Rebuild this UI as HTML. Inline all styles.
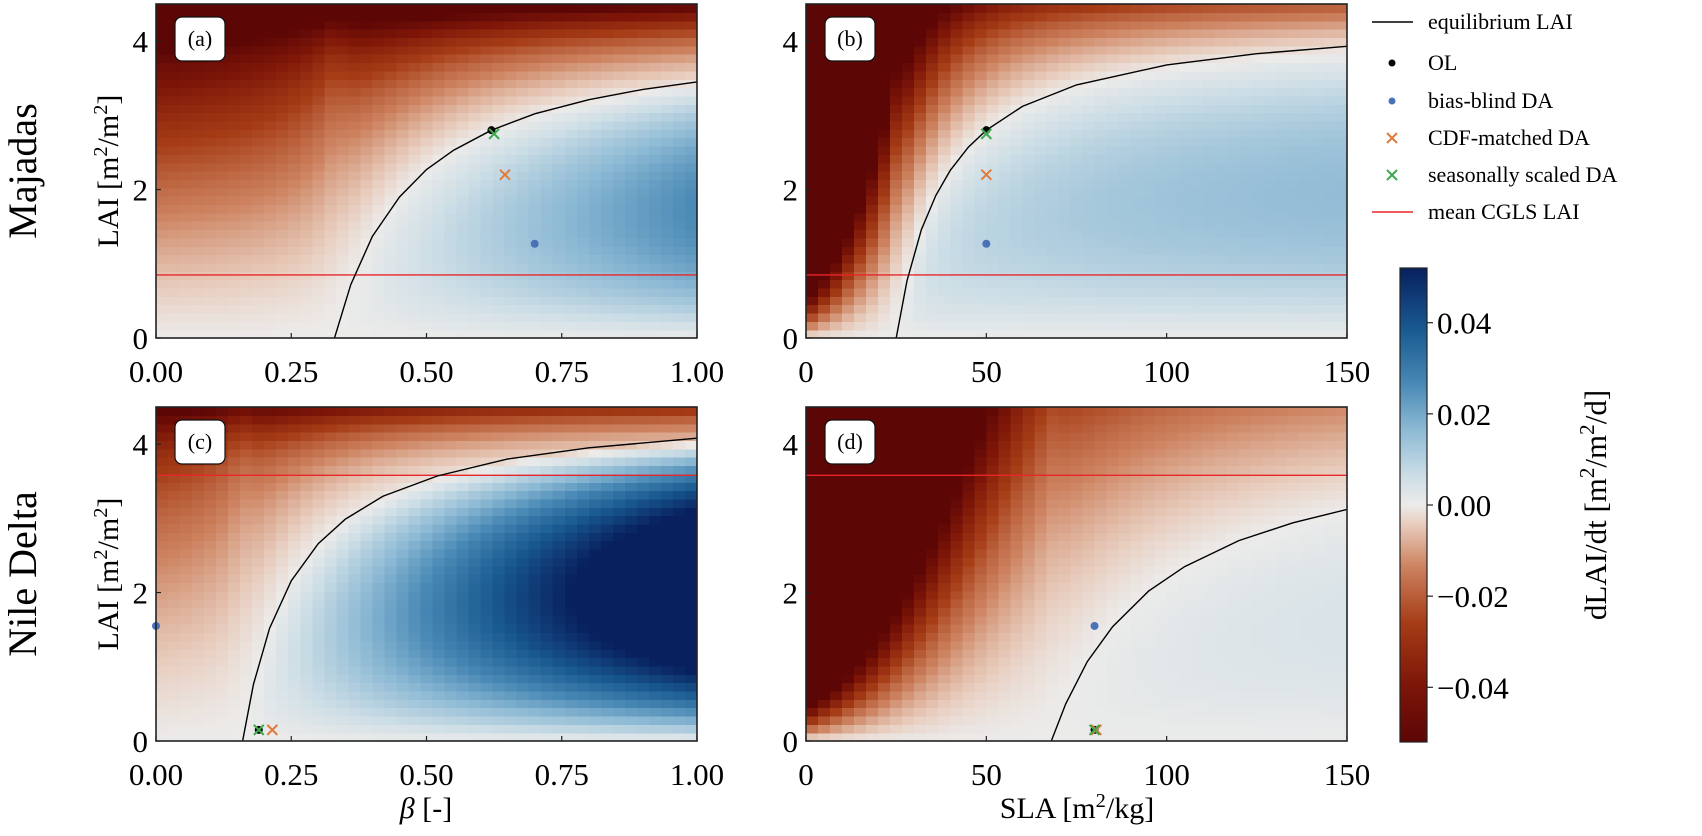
<!DOCTYPE html>
<html><head><meta charset="utf-8"><style>
html,body{margin:0;padding:0;background:#fff;}
svg{display:block;font-family:"Liberation Serif",serif;}
</style></head><body>
<svg id="fig" width="1702" height="836" viewBox="0 0 1702 836" xmlns="http://www.w3.org/2000/svg"></svg>
<script>
// ---- data ----
const betaTicks = [0, 0.25, 0.5, 0.75, 1.0];
const betaTickLabels = ["0.00","0.25","0.50","0.75","1.00"];
const slaTicks = [0, 50, 100, 150];
const slaTickLabels = ["0","50","100","150"];
const laiTicks = [0, 2, 4];
const laiTickLabels = ["0","2","4"];
const cbarTicks = [0.04, 0.02, 0, -0.02, -0.04];
const cbarTickLabels = ["0.04","0.02","0.00","\u22120.02","\u22120.04"];

const eqA_x = [0.33,0.36,0.40,0.45,0.50,0.55,0.62,0.70,0.80,0.90,1.0];
const eqA_y = [0,0.72,1.37,1.90,2.27,2.53,2.80,3.02,3.21,3.35,3.45];
const eqB_x = [25,28,32,36,40,45,50,60,75,100,125,150];
const eqB_y = [0,0.77,1.46,1.92,2.26,2.57,2.80,3.12,3.41,3.68,3.83,3.93];
const eqC_x = [0.16,0.18,0.21,0.25,0.30,0.35,0.42,0.52,0.65,0.80,1.0];
const eqC_y = [0,0.76,1.52,2.16,2.66,2.99,3.30,3.57,3.80,3.95,4.08];
const eqD_x = [68,72,78,85,95,105,120,135,150];
const eqD_y = [0,0.50,1.07,1.54,2.02,2.35,2.70,2.94,3.12];

const meanCGLS = [0.85, 0.85, 3.58, 3.58];
const olPts    = [[0.62,2.8],[50,2.8],[0.19,0.15],[80,0.15]];
const bbPts    = [[0.70,1.27],[50,1.27],[0.0,1.55],[80,1.55]];
const cdfPts   = [[0.645,2.2],[50,2.2],[0.215,0.15],[80.5,0.15]];
const ssPts    = [[0.625,2.75],[50,2.75],[0.19,0.15],[80,0.15]];

// ---- layout ----
const NS = "http://www.w3.org/2000/svg";
const svg = document.getElementById('fig');
function el(tag, attrs, parent){ const e=document.createElementNS(NS,tag); for(const k in attrs) e.setAttribute(k,attrs[k]); (parent||svg).appendChild(e); return e; }

const panels = [
 {id:'a', x:156, y:4,   w:541, h:334, xmin:0, xmax:1,   eqx:eqA_x, eqy:eqA_y, Lm:4.19, x0:0.33, hh:0.144, c0:0.0018, c1:0, s:1, mp:5, mpx:true, top:0.03, lab:'(a)'},
 {id:'b', x:806, y:4,   w:541, h:334, xmin:0, xmax:150, eqx:eqB_x, eqy:eqB_y, Lm:4.37, x0:25, hh:14, c0:0.0015, c1:0.03, s:10, mp:2.7, mpx:false, top:0.01, lab:'(b)'},
 {id:'c', x:156, y:407, w:541, h:334, xmin:0, xmax:1,   eqx:eqC_x, eqy:eqC_y, Lm:4.57, x0:0.16, hh:0.1008, c0:0.00104, c1:0, s:1, mp:17, mpx:true, top:0.025, lab:'(c)'},
 {id:'d', x:806, y:407, w:541, h:334, xmin:0, xmax:150, eqx:eqD_x, eqy:eqD_y, Lm:4.26, x0:68, hh:30, c0:0.0008, c1:0.034, s:15, mp:2, mpx:false, top:0, lab:'(d)'}
];
const YMAX = 4.5, VMIN=-0.052, VMAX=0.052;
const NX=45, NY=40;

const stops = [[0,[92,6,6]],[0.12,[125,22,8]],[0.25,[165,60,22]],[0.37,[205,130,95]],[0.46,[232,205,190]],[0.5,[236,235,234]],[0.56,[205,222,230]],[0.66,[140,185,212]],[0.76,[70,135,180]],[0.87,[25,90,145]],[1,[8,32,94]]];
function cmap(v){
  let t=(v-VMIN)/(VMAX-VMIN); t=Math.max(0,Math.min(1,t));
  for(let i=1;i<stops.length;i++){ if(t<=stops[i][0]){ const a=stops[i-1],b=stops[i]; const f=(t-a[0])/(b[0]-a[0]); const c=a[1].map((q,j)=>Math.round(q+(b[1][j]-q)*f)); return `rgb(${c[0]},${c[1]},${c[2]})`; } }
  return 'rgb(8,32,94)';
}
function field(p,x,L){
  const E=p.Lm*(x-p.x0)/(Math.abs(x-p.x0)+p.hh);
  const c=p.c0+p.c1*Math.exp(-x/p.s);
  const d=L*(E-L);
  let v;
  if(d>=0) v=c*d*p.mp*(p.mpx?x:1); else v=c*d*(1+0.5*Math.max(0,E));
  v-=p.top*Math.exp((L-4.5)/0.35);
  return v;
}

panels.forEach((p,pi)=>{
  const sx=v=>p.x+(v-p.xmin)/(p.xmax-p.xmin)*p.w;
  const sy=v=>p.y+p.h-v/YMAX*p.h;
  const g=el('g',{});
  
  
  const hm=el('g',{'shape-rendering':'crispEdges'},g);
  
  
  const cw=p.w/NX, ch=p.h/NY;
  for(let i=0;i<NX;i++)for(let j=0;j<NY;j++){
    const xv=p.xmin+(i+0.5)/NX*(p.xmax-p.xmin), lv=(j+0.5)/NY*YMAX;
    el('rect',{x:(p.x+i*cw).toFixed(2),y:(p.y+p.h-(j+1)*ch).toFixed(2),width:(cw+0.6).toFixed(2),height:(ch+0.6).toFixed(2),fill:cmap(field(p,xv,lv))},hm);
  }
  const clip=el('clipPath',{id:'clip'+p.id},g);
  el('rect',{x:p.x,y:p.y,width:p.w,height:p.h},clip);
  const rl=el('line',{x1:p.x,x2:p.x+p.w,y1:sy(meanCGLS[pi]),y2:sy(meanCGLS[pi]),stroke:'#e8262a','stroke-width':1.4},g);
  
  
  const pts=p.eqx.map((x,k)=>sx(x).toFixed(1)+','+sy(p.eqy[k]).toFixed(1)).join(' ');
  const pl=el('polyline',{points:pts,fill:'none',stroke:'#000','stroke-width':1.4,'clip-path':'url(#clip'+p.id+')'},g);
  
  
  const bb=el('circle',{cx:sx(bbPts[pi][0]),cy:sy(bbPts[pi][1]),r:4,fill:'#4a72b8'},g);
  
  
  const ol=el('circle',{cx:sx(olPts[pi][0]),cy:sy(olPts[pi][1]),r:4,fill:'#000'},g);
  
  
  [[cdfPts,'#e07b3c','cdf-matched-point-'],[ssPts,'#3fa94f','seasonally-scaled-point-']].forEach(([arr,col,nm])=>{
    const cx=sx(arr[pi][0]), cy=sy(arr[pi][1]), r=5;
    const m=el('path',{d:`M${cx-r},${cy-r}L${cx+r},${cy+r}M${cx-r},${cy+r}L${cx+r},${cy-r}`,stroke:col,'stroke-width':2,fill:'none'},g);
    
    
  });
  const fr=el('rect',{x:p.x,y:p.y,width:p.w,height:p.h,fill:'none',stroke:'#222','stroke-width':1.6},g);
  
  
  const lb=el('g',{},g);
  
  
  el('rect',{x:p.x+19,y:p.y+13,width:50,height:44,rx:7,fill:'#fff',stroke:'#111','stroke-width':1.2},lb);
  const lt=el('text',{x:p.x+44,y:p.y+42,'text-anchor':'middle','font-size':22},lb); lt.textContent=p.lab;
  const xt = p.xmax===1?betaTicks:slaTicks, xl = p.xmax===1?betaTickLabels:slaTickLabels;
  xt.forEach((v,k)=>{
    el('line',{x1:sx(v),x2:sx(v),y1:p.y+p.h,y2:p.y+p.h-5,stroke:'#222','stroke-width':1.2},g);
    const t=el('text',{x:sx(v),y:p.y+p.h+44,'text-anchor':'middle','font-size':31},g);
    
    
    t.textContent=xl[k];
  });
  laiTicks.forEach((v,k)=>{
    el('line',{x1:p.x,x2:p.x+5,y1:sy(v),y2:sy(v),stroke:'#222','stroke-width':1.2},g);
    const t=el('text',{x:p.x-8,y:sy(v)+11,'text-anchor':'end','font-size':31},g);
    
    
    t.textContent=laiTickLabels[k];
  });
});

function supText(x,y,size,parts,rot,name,anchor){
  const t=el('text',{x:x,y:y,'font-size':size,'text-anchor':anchor||'middle',transform:rot?`rotate(-90 ${x} ${y})`:''});
  
  
  parts.forEach(([s,sup])=>{ const ts=el('tspan',sup?{'baseline-shift':'super','font-size':size*0.68}:{},t); ts.textContent=s; });
  return t;
}
supText(118,171,30,[['LAI [m',0],['2',1],['/m',0],['2',1],[']',0]],true,'y-axis-title-top');
supText(118,574,30,[['LAI [m',0],['2',1],['/m',0],['2',1],[']',0]],true,'y-axis-title-bottom');
supText(36,171,40,[['Majadas',0]],true,'row-label-majadas');
supText(36,574,40,[['Nile Delta',0]],true,'row-label-nile-delta');
(function(){ const t=el('text',{x:426,y:818,'font-size':30,'text-anchor':'middle'});  
 const a=el('tspan',{'font-style':'italic'},t); a.textContent='β'; const b=el('tspan',{},t); b.textContent=' [-]'; })();
supText(1077,818,30,[['SLA [m',0],['2',1],['/kg]',0]],false,'x-axis-title-sla');

const cb={x:1400,y:268,w:27,h:474};
const cbg=el('g',{});


const defs=el('defs',{});
const lg=el('linearGradient',{id:'cbgrad',x1:0,y1:1,x2:0,y2:0},defs);
stops.forEach(s=>el('stop',{offset:s[0],'stop-color':`rgb(${s[1].join(',')})`},lg));
el('rect',{x:cb.x,y:cb.y,width:cb.w,height:cb.h,fill:'url(#cbgrad)',stroke:'#222','stroke-width':1.2},cbg);
const cy=v=>cb.y+(VMAX-v)/(VMAX-VMIN)*cb.h;
cbarTicks.forEach((v,k)=>{
  el('line',{x1:cb.x+cb.w,x2:cb.x+cb.w+6,y1:cy(v),y2:cy(v),stroke:'#222','stroke-width':1.2},cbg);
  const t=el('text',{x:cb.x+cb.w+10,y:cy(v)+11,'font-size':31},cbg);
  
  
  t.textContent=cbarTickLabels[k];
});
supText(1606,505,31,[['dLAI/dt [m',0],['2',1],['/m',0],['2',1],['/d]',0]],true,'colorbar-title');

const lgd=el('g',{});


const legItems=[['equilibrium LAI','line','#000'],['OL','dot','#000'],['bias-blind DA','dot','#4a72b8'],['CDF-matched DA','x','#e07b3c'],['seasonally scaled DA','x','#3fa94f'],['mean CGLS LAI','line','#e8262a']];
const legY=[22,63,101,138,175,212];
legItems.forEach((it,k)=>{
  const y=legY[k], g=el('g',{},lgd);
  
  
  if(it[1]==='line') el('line',{x1:1372,x2:1413,y1:y,y2:y,stroke:it[2],'stroke-width':1.5},g);
  else if(it[1]==='dot') el('circle',{cx:1392,cy:y,r:3.5,fill:it[2]},g);
  else el('path',{d:`M1387,${y-5}L1397,${y+5}M1387,${y+5}L1397,${y-5}`,stroke:it[2],'stroke-width':2},g);
  const t=el('text',{x:1428,y:y+7,'font-size':22},g); t.textContent=it[0];
});
</script>
</body></html>
